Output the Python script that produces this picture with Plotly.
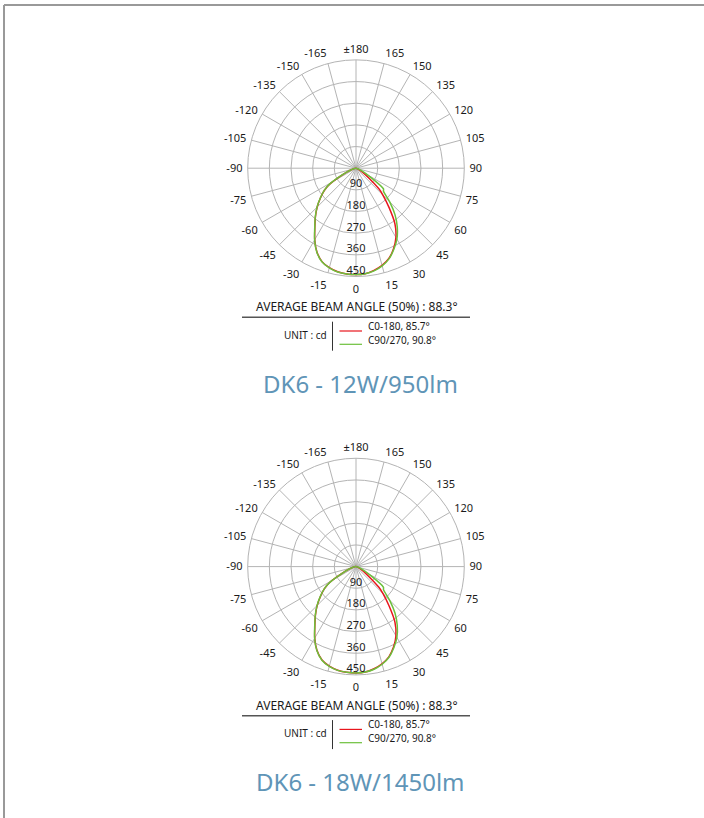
import plotly.graph_objects as go

W, H = 704, 818

# ---- data ----
angle_tickvals = list(range(0, 360, 15))
angle_ticktext = ["0", "15", "30", "45", "60", "75", "90", "105", "120", "135", "150", "165",
                  "±180", "-165", "-150", "-135", "-120", "-105", "-90", "-75", "-60", "-45", "-30", "-15"]
radial_ticks = [90, 180, 270, 360, 450]

c0_theta = [-62, -59, -55, -50, -45, -40, -35, -30, -25, -20, -15, -10, -5, 0,
            5, 10, 15, 20, 25, 30, 35, 40, 45, 48, 51]
c0_r = [0, 126, 160, 193, 228, 262, 298, 343, 384, 413, 428, 437, 441, 442,
        440, 431, 418, 399, 369, 332, 282, 214, 158, 128, 0]

c90_theta = [-62, -59, -55, -50, -45, -40, -35, -30, -25, -20, -15, -10, -5, 0,
             5, 10, 15, 20, 25, 30, 35, 40, 45, 50, 53, 56]
c90_r = [0, 127, 161, 194, 229, 263, 299, 344, 385, 414, 429, 438, 441, 442,
         440, 433, 420, 401, 372, 340, 299, 252, 198, 149, 143, 0]

products = ["DK6 - 12W/950lm", "DK6 - 18W/1450lm"]
avg_beam = "AVERAGE BEAM ANGLE (50%) : 88.3°"
series_names = ["C0-180, 85.7°", "C90/270, 90.8°"]
unit_text = "UNIT : cd"

RED = "#e8161d"
GREEN = "#6cc03c"
GRID = "#b4b4b4"
TXT = "#1a1a1a"
TITLE_C = "#5f95b7"
FONT = "Noto Sans"

# ---- layout geometry (pixels) ----
cx = 356
centers_y = [168.2, 566.6]
R = 108.3
text_base = 169.3  # reference y for the text block of the first chart


def px(x):
    return x / W


def py(y):
    return 1 - y / H


fig = go.Figure()
shapes = []
annotations = []

for i, cy in enumerate(centers_y):
    pid = "polar" if i == 0 else f"polar{i+1}"
    fig.add_trace(go.Scatterpolar(theta=c0_theta, r=c0_r, mode="lines",
                                  line=dict(color=RED, width=1.5, shape="spline", smoothing=0.6),
                                  subplot=pid, showlegend=False, name=series_names[0]))
    fig.add_trace(go.Scatterpolar(theta=c90_theta, r=c90_r, mode="lines",
                                  line=dict(color=GREEN, width=1.5, shape="spline", smoothing=0.6),
                                  subplot=pid, showlegend=False, name=series_names[1]))
    fig.add_trace(go.Scatterpolar(theta=[0] * len(radial_ticks),
                                  r=[v - 22 for v in radial_ticks],
                                  text=[str(v) for v in radial_ticks],
                                  mode="text", textfont=dict(size=11, color=TXT, family=FONT),
                                  subplot=pid, showlegend=False, hoverinfo="skip"))
    polar = dict(
        domain=dict(x=[px(cx - R), px(cx + R)], y=[py(cy + R), py(cy - R)]),
        bgcolor="rgba(0,0,0,0)",
        angularaxis=dict(rotation=270, direction="counterclockwise",
                         tickmode="array", tickvals=angle_tickvals, ticktext=angle_ticktext,
                         showgrid=True, gridcolor=GRID, gridwidth=1,
                         showline=True, linecolor=GRID, linewidth=1,
                         ticks="outside", ticklen=2.5, tickcolor="rgba(0,0,0,0)",
                         tickfont=dict(size=11, color=TXT, family=FONT)),
        radialaxis=dict(range=[0, 450], tickvals=radial_ticks, showticklabels=False,
                        showline=False, ticks="", gridcolor=GRID, gridwidth=1),
    )
    fig.update_layout(**{pid: polar})

    dy = (cy - centers_y[0])
    annotations.append(dict(x=px(356.5), y=py(306.7 + dy), xref="paper", yref="paper",
                            text=avg_beam, showarrow=False, xanchor="center", yanchor="middle",
                            font=dict(size=12, color=TXT, family=FONT)))
    shapes.append(dict(type="line", xref="paper", yref="paper",
                       x0=px(242), x1=px(470), y0=py(317.3 + dy), y1=py(317.3 + dy),
                       line=dict(color="#555555", width=1.5)))
    annotations.append(dict(x=px(305), y=py(335 + dy), xref="paper", yref="paper",
                            text=unit_text, showarrow=False, xanchor="center", yanchor="middle",
                            font=dict(size=10, color=TXT, family=FONT)))
    shapes.append(dict(type="line", xref="paper", yref="paper",
                       x0=px(332.5), x1=px(332.5), y0=py(321.7 + dy), y1=py(350.7 + dy),
                       line=dict(color="#333333", width=1)))
    for col, name, ly, ty in [(RED, series_names[0], 331, 325.8),
                              (GREEN, series_names[1], 344.3, 340)]:
        shapes.append(dict(type="line", xref="paper", yref="paper",
                           x0=px(339.5), x1=px(362), y0=py(ly + dy), y1=py(ly + dy),
                           line=dict(color=col, width=1.2)))
        annotations.append(dict(x=px(366), y=py(ty + dy), xref="paper", yref="paper",
                                text=name, showarrow=False, xanchor="left", yanchor="middle",
                                font=dict(size=10, color=TXT, family=FONT)))
    annotations.append(dict(x=px(360.5), y=py(383.3 + dy), xref="paper", yref="paper",
                            text=products[i], showarrow=False, xanchor="center", yanchor="middle",
                            font=dict(size=24, color=TITLE_C, family=FONT)))

# page border
shapes.append(dict(type="line", xref="paper", yref="paper", x0=px(4), x1=1,
                   y0=py(5), y1=py(5), line=dict(color="#999999", width=2)))
shapes.append(dict(type="line", xref="paper", yref="paper", x0=px(4), x1=px(4),
                   y0=py(5), y1=0, line=dict(color="#999999", width=2)))

fig.update_layout(width=W, height=H, margin=dict(l=0, r=0, t=0, b=0),
                  paper_bgcolor="white", plot_bgcolor="white",
                  shapes=shapes, annotations=annotations, showlegend=False,
                  font=dict(family=FONT, color=TXT))

fig.write_html("out.html", config={"displayModeBar": False},
               post_script="document.body.style.margin='0';document.body.style.overflow='hidden';")
